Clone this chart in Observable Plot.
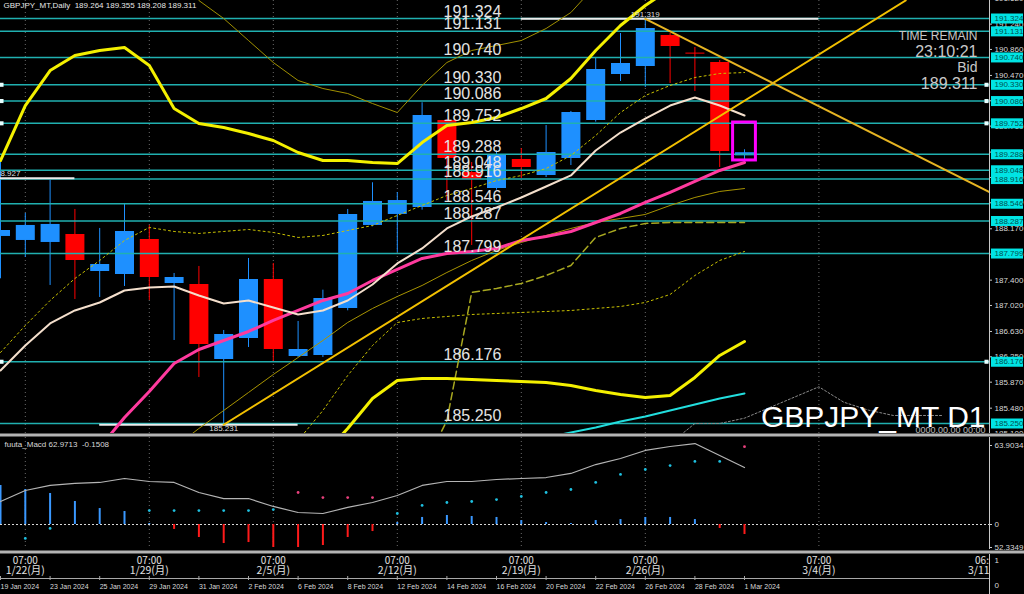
<!DOCTYPE html>
<html>
<head>
<meta charset="utf-8">
<script src="https://cdn.jsdelivr.net/npm/d3@7"></script>
<script src="https://cdn.jsdelivr.net/npm/@observablehq/plot@0.6"></script>
<style>
  html, body { margin: 0; padding: 0; background: #000; }
  #chart { position: relative; width: 1024px; height: 594px; background: #000; overflow: hidden; }
  #chart > svg { position: absolute; left: 0; }
</style>
</head>
<body>
<div id="chart"></div>
<script>
// ================= DATA =================
const dates  = ["1/19","1/22","1/23","1/24","1/25","1/26","1/29","1/30","1/31","2/1","2/2","2/5","2/6","2/7","2/8","2/9","2/12","2/13","2/14","2/15","2/16","2/19","2/20","2/21","2/22","2/23","2/26","2/27","2/28","2/29","3/1"];
const opens  = [188.055,187.995,187.965,188.085,187.530,187.485,188.010,187.350,187.335,186.210,186.525,187.410,186.255,186.270,186.975,188.220,188.385,188.490,189.794,189.014,188.774,189.209,188.969,189.224,189.794,190.484,190.604,191.069,190.805,190.664,189.264];
const highs  = [189.200,188.400,188.900,188.460,188.175,188.550,188.220,187.500,187.605,186.645,187.725,187.650,186.780,187.250,188.460,188.860,188.714,190.060,189.810,189.164,189.340,189.374,189.719,189.930,190.724,191.099,191.319,191.100,190.889,190.694,189.355];
const lows   = [187.420,187.740,187.320,187.110,187.140,187.305,187.095,186.495,185.940,185.231,186.390,186.165,186.240,186.240,186.940,188.200,187.815,188.450,188.594,187.920,188.750,188.924,188.939,189.119,189.770,190.379,190.289,190.349,190.229,189.089,189.208];
const closes = [188.145,188.220,188.235,187.695,187.635,188.130,187.440,187.440,186.435,186.585,187.410,186.360,186.360,187.125,188.385,188.580,188.594,189.870,189.224,188.909,189.269,189.089,189.314,189.914,190.559,190.649,191.174,190.904,190.790,189.329,189.311];

// indicator series (one value per bar, null = not on chart)
const maWhite  = [186.045,186.420,186.750,186.945,187.065,187.245,187.290,187.305,187.170,187.050,187.095,186.990,186.885,186.945,187.095,187.335,187.650,187.875,188.175,188.355,188.490,188.640,188.805,188.970,189.345,189.614,189.824,190.019,190.139,190.019,189.869];
const maPink   = [null,null,null,null,184.890,185.340,185.730,186.150,186.360,186.495,186.630,186.795,186.945,187.095,187.200,187.395,187.560,187.725,187.800,187.830,187.875,187.995,188.055,188.130,188.265,188.400,188.565,188.715,188.880,189.045,189.165];
const bandUp2  = [189.194,190.019,190.544,190.769,190.844,190.889,190.619,189.974,189.749,189.689,189.599,189.494,189.314,189.194,189.194,189.164,189.149,189.464,189.719,189.764,189.839,189.974,190.124,190.424,190.844,191.219,191.519,191.770,191.970,192.070,192.120];
const bandLo2  = [null,null,null,null,null,null,null,null,null,null,null,null,184.395,184.770,185.175,185.625,185.895,185.925,185.925,185.910,185.895,185.880,185.865,185.820,185.745,185.685,185.640,185.670,185.940,186.270,186.480];
const bandUp1  = [186.315,186.720,187.095,187.425,187.695,187.995,188.190,188.130,188.100,188.130,188.160,188.115,188.040,188.070,188.145,188.220,188.370,188.520,188.670,188.775,188.894,188.969,189.074,189.269,189.569,189.914,190.169,190.319,190.439,190.499,190.514];
const bandLo1  = [null,null,null,null,null,null,null,null,null,null,null,null,184.995,185.445,185.970,186.420,186.765,186.825,186.855,186.885,186.900,186.915,186.930,186.945,186.975,187.005,187.065,187.185,187.470,187.695,187.830];
const bandUp3  = [null,null,null,null,null,null,null,191.969,191.594,191.324,190.994,190.664,190.394,190.274,190.199,190.049,189.914,190.319,190.664,190.844,190.919,190.994,191.174,191.414,191.819,192.269,null,null,null,null,null];
const maOlive  = [null,null,null,null,null,null,null,184.890,185.175,185.445,185.715,185.985,186.240,186.495,186.765,186.975,187.155,187.320,187.515,187.695,187.845,187.965,188.070,188.175,188.265,188.325,188.385,188.520,188.640,188.730,188.774];
const baseDash = [null,null,null,null,null,null,null,null,null,null,null,null,null,null,null,null,null,184.545,185.295,187.215,187.275,187.350,187.470,187.620,188.040,188.175,188.250,188.265,188.265,188.265,188.265];
const maCyan   = [null,null,null,null,null,null,null,null,null,null,null,null,null,null,null,null,null,null,null,null,null,null,185.040,185.115,185.190,185.280,185.355,185.445,185.535,185.625,185.700];

// horizontal levels (cyan lines + labels)
const levels = [191.324,191.131,190.740,190.330,190.086,189.752,189.288,189.048,188.916,188.546,188.287,187.799,186.176,185.250];
const levelMarks = [190.330,190.086,189.752,186.176];
// white high/low lines
const extVals = [191.319,185.231,188.927];
const extFrom = [21,4,0];
const extTo   = [33,12,3];
const extAt   = [26,9,0.22];
// trendlines (bar index, price)
const trendUpI = [9, 36.5],   trendUpV = [185.231, 191.594];
const trendDnI = [26, 39.88], trendDnV = [191.319, 188.72];
// projected zigzag (dotted gray)
const projI = [27.3,28,29,30,33,34,35,36,38];
const projV = [185.04,185.25,185.25,185.33,185.80,185.57,185.45,185.37,185.37];
// box around the current bar
const boxBar = 30, boxTop = 189.764, boxBottom = 189.195;
// price axis ticks
const priceTicks = [185.100,185.480,185.870,186.250,186.630,187.020,187.400,187.790,188.170,188.560,188.940,189.320,189.710,190.090,190.470,190.860,191.240,191.620];

// MACD panel
const macdHist = [31.6,28.3,25.1,18.6,12.9,10.5,0.8,-4.0,-10.5,-15.4,-14.6,-18.6,-18.6,-17.0,-10.5,-5.7,1.6,5.7,7.3,6.5,5.7,3.2,1.6,0.8,3.2,4.0,5.7,5.7,4.0,-3.2,-8.1];
const macdLine = [18.6,27.5,31.6,33.2,34.0,37.2,34.8,34.0,25.9,21.0,21.0,14.6,9.7,8.9,13.8,17.8,23.5,31.6,34.8,34.8,36.4,37.2,38.0,41.3,48.5,53.4,59.9,63.1,65.5,55.8,46.1];
const macdDots = [null,-11.3,-3.2,null,null,null,11.3,11.3,11.3,11.3,11.3,12.1,25.9,21.8,21.8,21.8,8.9,15.4,17.8,18.6,20.2,22.7,25.9,28.3,34.0,40.5,44.5,47.7,51.0,51.0,62.97];
const macdDotState = ["u","u","u","u","u","u","u","u","u","u","u","u","d","d","d","d","u","u","u","u","u","u","u","u","u","u","u","u","u","u","d"];
const macdTickVals = [63.9034, 0, -18.6];
const macdTickText = ["63.9034", "0", "52.3349"];

// time axis
const weekIdx  = [1,6,11,16,21,26,33,39.8];
const weekTime = ["07:00","07:00","07:00","07:00","07:00","07:00","07:00","06:00"];
const weekDate = ["1/22(月)","1/29(月)","2/5(月)","2/12(月)","2/19(月)","2/26(月)","3/4(月)","3/11(月)"];
const dayIdx   = [0,2,4,6,8,10,12,14,16,18,20,22,24,26,28,30];
const dayText  = ["19 Jan 2024","23 Jan 2024","25 Jan 2024","29 Jan 2024","31 Jan 2024","2 Feb 2024","6 Feb 2024","8 Feb 2024","12 Feb 2024","14 Feb 2024","16 Feb 2024","20 Feb 2024","22 Feb 2024","26 Feb 2024","28 Feb 2024","1 Mar 2024"];
const gridIdx  = [1,6,11,16,21,26,33];

const headerText = "GBPJPY_MT,Daily  189.264 189.355 189.208 189.311";
const macdTitle  = "fuuta_Macd 62.9713  -0.1508";
const infoTitle  = "TIME REMAIN", infoTime = "23:10:21", infoBidLabel = "Bid", infoBid = "189.311";
const symbolText = "GBPJPY_MT D1", dateStamp = "0000.00.00 00:00";

// ================= LAYOUT =================
const W = 1024, BAR_PX = 24.8, MR = 35;
const XMAX = (W - MR) / BAR_PX;
const bx = p => p / BAR_PX;
const FONT = "'Liberation Sans', Arial, sans-serif";
const UP = "#1e90ff", DN = "#ff0000";
const chart = document.getElementById("chart");
function place(el, top) { el.style.position = "absolute"; el.style.top = top + "px"; el.style.left = "0px"; chart.appendChild(el); }
const svgStyle = {background: "transparent", color: "#ddd"};

const candles = dates.map((d, i) => ({i, d, o: opens[i], h: highs[i], l: lows[i], c: closes[i]}));
const ser = arr => arr.map((v, i) => ({i, v})).filter(d => d.v != null);
const pts = (I, V) => I.map((i, k) => ({i, v: V[k]}));
const candleColor = d => d.c >= d.o ? UP : DN;

// ================= MAIN PANEL =================
const main = Plot.plot({
  width: W, height: 433,
  marginTop: 0, marginBottom: 0, marginLeft: 0, marginRight: MR,
  style: svgStyle,
  x: {domain: [0, XMAX], axis: null},
  y: {domain: [185.1, 191.594], axis: null},
  marks: [
    Plot.ruleX(gridIdx, {stroke: "#6c6c6c", strokeDasharray: "1,3"}),
    // candles
    Plot.ruleX(candles, {x: "i", y1: "l", y2: "h", stroke: candleColor, strokeWidth: 1, clip: true}),
    Plot.ruleX(candles, {x: "i", y1: "o", y2: "c", stroke: candleColor, strokeWidth: 19, clip: true}),
    // horizontal levels
    Plot.ruleY(levels, {stroke: "#20b0b0", strokeWidth: 1.5}),
    // white high / low lines
    Plot.ruleY(extVals, {y: d => d, x1: (d, k) => extFrom[k], x2: (d, k) => extTo[k], stroke: "#ececec", strokeWidth: 2}),
    // indicator lines
    Plot.line(ser(bandUp3), {x: "i", y: "v", stroke: "#a09000", strokeWidth: 1, clip: true}),
    Plot.line(ser(maOlive), {x: "i", y: "v", stroke: "#a89400", strokeWidth: 1, clip: true}),
    Plot.line(ser(bandUp1), {x: "i", y: "v", stroke: "#c8c000", strokeWidth: 1, strokeDasharray: "2,3", clip: true}),
    Plot.line(ser(bandLo1), {x: "i", y: "v", stroke: "#c8c000", strokeWidth: 1, strokeDasharray: "2,3", clip: true}),
    Plot.line(ser(baseDash), {x: "i", y: "v", stroke: "#a8a820", strokeWidth: 1.5, strokeDasharray: "7,4", clip: true}),
    Plot.line(ser(maCyan), {x: "i", y: "v", stroke: "#22dede", strokeWidth: 2, clip: true}),
    Plot.line(ser(bandUp2), {x: "i", y: "v", stroke: "#f4f000", strokeWidth: 3, clip: true}),
    Plot.line(ser(bandLo2), {x: "i", y: "v", stroke: "#f4f000", strokeWidth: 3, clip: true}),
    Plot.line(ser(maPink), {x: "i", y: "v", stroke: "#ff3a9e", strokeWidth: 3, clip: true}),
    Plot.line(ser(maWhite), {x: "i", y: "v", stroke: "#f4dfcc", strokeWidth: 2, clip: true}),
    Plot.line(pts(trendUpI, trendUpV), {x: "i", y: "v", stroke: "#f2c000", strokeWidth: 2, clip: true}),
    Plot.line(pts(trendDnI, trendDnV), {x: "i", y: "v", stroke: "#e6b422", strokeWidth: 2, clip: true}),
    Plot.line(pts(projI, projV), {x: "i", y: "v", stroke: "#8a8a8a", strokeWidth: 1, strokeDasharray: "2,2", clip: true}),
    // box around current bar
    Plot.rect([{i: boxBar, t: boxTop, b: boxBottom}], {x1: d => d.i - 0.46, x2: d => d.i + 0.46, y1: "b", y2: "t", fill: "none", stroke: "#ff00ff", strokeWidth: 3}),
    // level labels
    Plot.text(levels, {x: bx(443), y: d => d, text: d => d.toFixed(3), textAnchor: "start", lineAnchor: "bottom", dy: -2, fill: "#e4e4e4", fontSize: 16, fontFamily: FONT}),
    // white line labels
    Plot.text([extVals[0]], {x: extAt[0], y: d => d, text: d => d.toFixed(3), lineAnchor: "bottom", dy: -2, fill: "#dddddd", fontSize: 8, fontFamily: FONT}),
    Plot.text([extVals[1]], {x: extAt[1], y: d => d, text: d => d.toFixed(3), lineAnchor: "top", dy: 1, fill: "#dddddd", fontSize: 8, fontFamily: FONT}),
    Plot.text([extVals[2]], {x: extAt[2], y: d => d, text: d => d.toFixed(3), lineAnchor: "bottom", dy: -2, fill: "#dddddd", fontSize: 8, fontFamily: FONT}),
    // edge markers
    Plot.dot(levelMarks, {x: 0, y: d => d, symbol: "square", r: 2.3, dx: 1, fill: "#e8ffff"}),
    Plot.dot(levelMarks, {x: XMAX, y: d => d, symbol: "square", r: 2.3, dx: -3, fill: "#e8ffff"}),
    // price axis
    Plot.ruleX([XMAX], {stroke: "#c8c8c8", strokeWidth: 1}),
    Plot.ruleY(priceTicks, {y: d => d, x1: XMAX, x2: XMAX + bx(3), stroke: "#c8c8c8"}),
    Plot.text(priceTicks, {x: XMAX, y: d => d, dx: 5, text: d => d.toFixed(3), textAnchor: "start", fill: "#d8d8d8", fontSize: 8, fontFamily: FONT}),
    Plot.ruleY(levels, {y: d => d, x1: XMAX + bx(2), x2: XMAX + bx(34), stroke: "#00e4e4", strokeWidth: 10}),
    Plot.text(levels, {x: XMAX, y: d => d, dx: 5, text: d => d.toFixed(3), textAnchor: "start", fill: "#005050", fontSize: 8, fontFamily: FONT}),
    // texts
    Plot.text([headerText], {frameAnchor: "top-left", dx: 3, dy: 2, lineAnchor: "top", textAnchor: "start", fill: "#e6e6e6", fontSize: 8, fontFamily: FONT}),
    Plot.text([infoTitle], {frameAnchor: "top-right", dx: -12, dy: 31, lineAnchor: "top", textAnchor: "end", fill: "#c8c8c8", fontSize: 12, fontFamily: "'Liberation Sans Narrow', 'Liberation Sans', sans-serif"}),
    Plot.text([infoTime], {frameAnchor: "top-right", dx: -12, dy: 45, lineAnchor: "top", textAnchor: "end", fill: "#c8c8c8", fontSize: 16, fontFamily: FONT}),
    Plot.text([infoBidLabel], {frameAnchor: "top-right", dx: -12, dy: 62, lineAnchor: "top", textAnchor: "end", fill: "#c8c8c8", fontSize: 14, fontFamily: FONT}),
    Plot.text([infoBid], {frameAnchor: "top-right", dx: -12, dy: 77, lineAnchor: "top", textAnchor: "end", fill: "#c8c8c8", fontSize: 16, fontFamily: FONT}),
    Plot.text([symbolText], {frameAnchor: "bottom-right", dx: -4, dy: -7, lineAnchor: "bottom", textAnchor: "end", fill: "#ffffff", fontSize: 30, fontFamily: FONT}),
    Plot.text([dateStamp], {frameAnchor: "bottom-right", dx: -4, dy: -1, lineAnchor: "bottom", textAnchor: "end", fill: "#bdbdbd", fontSize: 9, fontFamily: FONT})
  ]
});
place(main, 0);

// ================= MACD PANEL =================
const macd = dates.map((d, i) => ({i, h: macdHist[i], s: macdLine[i], dv: macdDots[i], st: macdDotState[i]}));
const MY0 = -20.22, MY1 = 70.38;
const XFULL = W / BAR_PX;
const macdPlot = Plot.plot({
  width: W, height: 121,
  marginTop: 4, marginBottom: 5, marginLeft: 0, marginRight: MR,
  style: svgStyle,
  x: {domain: [0, XMAX], axis: null},
  y: {domain: [MY0, MY1], axis: null},
  marks: [
    Plot.ruleY([MY1], {x1: 0, x2: XFULL, dy: -2.5, stroke: "#b4b4b4", strokeWidth: 3}),
    Plot.ruleY([MY0], {x1: 0, x2: XFULL, dy: 2.5, stroke: "#b4b4b4", strokeWidth: 3}),
    Plot.ruleX(gridIdx, {stroke: "#6c6c6c", strokeDasharray: "1,3"}),
    Plot.ruleY([0], {stroke: "#d8d8d8", strokeDasharray: "2,2"}),
    Plot.ruleX(macd, {x: "i", y1: 0, y2: "h", stroke: d => d.h >= 0 ? "#3a98ff" : "#ff1a1a", strokeWidth: 2, clip: true}),
    Plot.line(macd, {x: "i", y: "s", stroke: "#b4b4b4", strokeWidth: 1.2, clip: true}),
    Plot.dot(macd.filter(d => d.dv != null), {x: "i", y: "dv", r: 1.4, stroke: null, fill: d => d.st === "u" ? "#1ec0e0" : "#e8407c"}),
    Plot.ruleX([XMAX], {stroke: "#c8c8c8", strokeWidth: 1}),
    Plot.ruleY(macdTickVals, {y: d => d, x1: XMAX, x2: XMAX + bx(3), stroke: "#c8c8c8"}),
    Plot.text(macdTickVals, {x: XMAX, y: d => d, dx: 5, text: (d, k) => macdTickText[k], textAnchor: "start", fill: "#d8d8d8", fontSize: 8, fontFamily: FONT}),
    Plot.text([macdTitle], {frameAnchor: "top-left", dx: 4, dy: 4, lineAnchor: "top", textAnchor: "start", fill: "#d8d8d8", fontSize: 8, fontFamily: FONT})
  ]
});
place(macdPlot, 433);

// ================= TIME AXIS =================
const weeks = weekIdx.map((i, k) => ({i, t: weekTime[k], d: weekDate[k]}));
const days = dayIdx.map((i, k) => ({i, t: dayText[k]}));
const timePlot = Plot.plot({
  width: W, height: 40,
  marginTop: 0, marginBottom: 0, marginLeft: 0, marginRight: MR,
  style: svgStyle,
  x: {domain: [0, XMAX], axis: null},
  y: {domain: [40, 0], axis: null},
  marks: [
    Plot.text(weeks, {x: "i", y: 6, text: "t", fill: "#e0e0e0", fontSize: 10, fontFamily: "'Noto Sans CJK JP', sans-serif", clip: true}),
    Plot.text(weeks, {x: "i", y: 16.5, text: "d", fill: "#e0e0e0", fontSize: 10.5, fontFamily: "'Noto Sans CJK JP', sans-serif", clip: true}),
    Plot.ruleY([24], {x1: 0, x2: XMAX, stroke: "#a8a8a8", strokeWidth: 1}),
    Plot.ruleX(days, {x: "i", y1: 22, y2: 26, stroke: "#a8a8a8"}),
    Plot.text(days, {x: "i", y: 32, text: "t", textAnchor: "start", dx: 0, fill: "#d8d8d8", fontSize: 7, fontFamily: FONT}),
    Plot.ruleX([XMAX], {y1: 0, y2: 40, stroke: "#c8c8c8", strokeWidth: 1}),
    Plot.text(["1", "0"], {x: XMAX, y: (d, k) => k === 0 ? 6 : 31, dx: 5, text: d => d, textAnchor: "start", fill: "#d8d8d8", fontSize: 8, fontFamily: FONT})
  ]
});
place(timePlot, 554);
</script>
</body>
</html>
